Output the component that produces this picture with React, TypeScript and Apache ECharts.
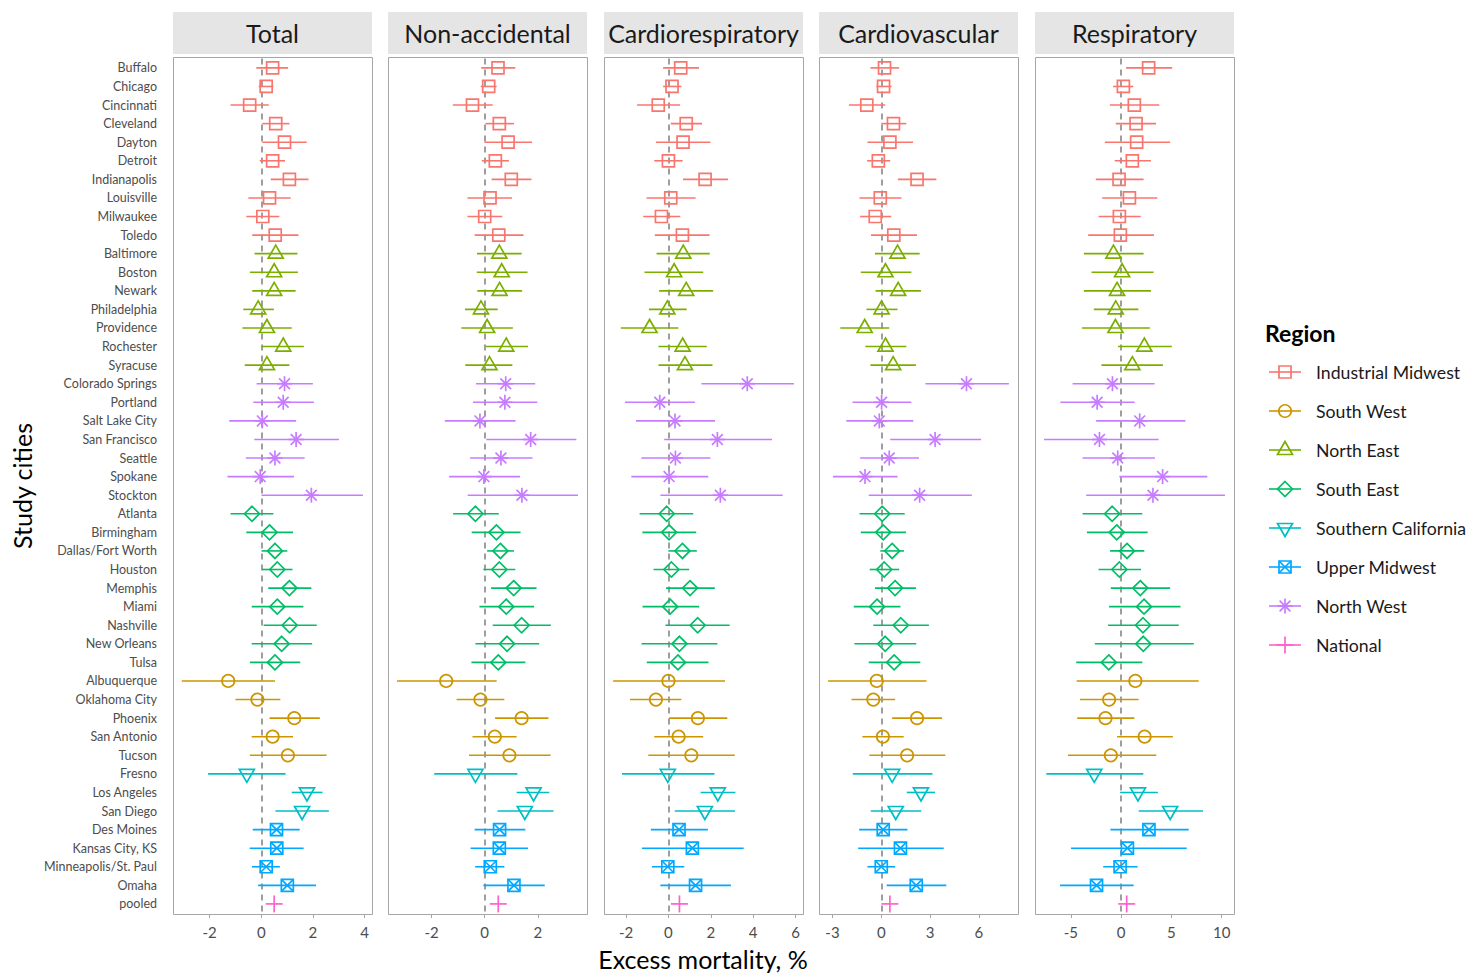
import React, { useEffect, useRef } from "react";
import * as echarts from "echarts";

const cities = ["Buffalo","Chicago","Cincinnati","Cleveland","Dayton","Detroit","Indianapolis","Louisville","Milwaukee","Toledo","Baltimore","Boston","Newark","Philadelphia","Providence","Rochester","Syracuse","Colorado Springs","Portland","Salt Lake City","San Francisco","Seattle","Spokane","Stockton","Atlanta","Birmingham","Dallas/Fort Worth","Houston","Memphis","Miami","Nashville","New Orleans","Tulsa","Albuquerque","Oklahoma City","Phoenix","San Antonio","Tucson","Fresno","Los Angeles","San Diego","Des Moines","Kansas City, KS","Minneapolis/St. Paul","Omaha","pooled"];

const regions = ["Industrial Midwest","South West","North East","South East","Southern California","Upper Midwest","North West","National"];
const regionColors = ["#F8766D","#CD9600","#7CAE00","#00BE67","#00BFC4","#00A9FF","#C77CFF","#FF61CC"];
// marker shape per region: 0 square, 1 circle, 2 triangle, 5 diamond, 6 down triangle, 7 square-cross, 8 asterisk, 3 plus
const regionShapes = [0, 1, 2, 5, 6, 7, 8, 3];

const cityRegion = [0,0,0,0,0,0,0,0,0,0, 2,2,2,2,2,2,2, 6,6,6,6,6,6,6, 3,3,3,3,3,3,3,3,3, 1,1,1,1,1, 4,4,4, 5,5,5,5, 7];

const panels = ["Total","Non-accidental","Cardiorespiratory","Cardiovascular","Respiratory"];

const totalEst = [0.44,0.19,-0.45,0.56,0.90,0.44,1.09,0.32,0.06,0.54, 0.56,0.50,0.50,-0.12,0.22,0.85,0.22, 0.90,0.85,0.04,1.35,0.53,-0.04,1.94, -0.36,0.32,0.53,0.62,1.09,0.62,1.10,0.79,0.53, -1.28,-0.15,1.28,0.44,1.03, -0.56,1.77,1.58, 0.59,0.60,0.19,1.01, 0.50];
const totalLo = [-0.19,-0.10,-1.19,0.04,0.04,-0.06,0.37,-0.50,-0.58,-0.35, -0.26,-0.44,-0.35,-0.70,-0.73,0.01,-0.64, -0.18,-0.31,-1.24,-0.27,-0.60,-1.31,0.01, -1.19,-0.58,0.01,0.04,0.27,-0.37,0.09,-0.37,-0.44, -3.08,-1.00,0.32,-0.37,-0.44, -2.06,1.18,0.55, -0.33,-0.45,-0.36,-0.12, null];
const totalHi = [1.04,0.47,0.29,1.09,1.76,0.92,1.83,1.14,0.70,1.44, 1.40,1.42,1.33,0.49,1.18,1.65,1.09, 2.00,2.04,1.35,3.01,1.68,1.27,3.94, 0.47,1.23,1.01,1.21,1.94,1.63,2.15,1.97,1.51, 0.53,0.74,2.27,1.23,2.53, 0.94,2.37,2.62, 1.49,1.64,0.72,2.12, null];

const nonAccEst = [0.50,0.15,-0.46,0.55,0.88,0.40,1.00,0.20,0.00,0.53, 0.55,0.64,0.56,-0.14,0.09,0.81,0.18, 0.79,0.76,-0.18,1.73,0.61,-0.03,1.40, -0.35,0.44,0.59,0.55,1.09,0.81,1.39,0.84,0.51, -1.45,-0.16,1.39,0.38,0.93, -0.35,1.84,1.51, 0.56,0.55,0.21,1.10, 0.51];
const nonAccLo = [-0.13,-0.15,-1.20,0.03,-0.01,-0.11,0.26,-0.65,-0.65,-0.38, -0.29,-0.30,-0.28,-0.74,-0.88,0.05,-0.73, -0.33,-0.44,-1.50,0.06,-0.55,-1.34,-0.64, -1.19,-0.49,0.09,-0.05,0.24,-0.20,0.30,-0.35,-0.50, -3.30,-1.06,0.39,-0.46,-0.59, -1.90,1.20,0.48, -0.38,-0.53,-0.36,-0.05, null];
const nonAccHi = [1.15,0.45,0.30,1.10,1.78,0.91,1.76,1.03,0.66,1.46, 1.39,1.61,1.41,0.49,1.06,1.63,1.04, 1.90,1.98,1.16,3.45,1.80,1.33,3.51, 0.53,1.35,1.10,1.15,1.95,1.86,2.49,2.05,1.53, 0.45,0.74,2.40,1.20,2.48, 1.23,2.43,2.59, 1.53,1.63,0.74,2.26, null];

const cardioRespEst = [0.58,0.17,-0.48,0.84,0.69,0.00,1.73,0.11,-0.33,0.66, 0.70,0.27,0.84,-0.05,-0.89,0.67,0.78, 3.72,-0.41,0.31,2.31,0.33,0.03,2.45, -0.08,0.03,0.66,0.14,1.02,0.08,1.38,0.52,0.45, 0.00,-0.59,1.39,0.48,1.08, -0.03,2.33,1.72, 0.50,1.13,-0.03,1.28, 0.52];
const cardioRespLo = [-0.25,-0.25,-1.48,0.11,-0.59,-0.67,0.69,-1.03,-1.19,-0.64, -0.56,-1.13,-0.44,-0.92,-2.25,-0.47,-0.47, 1.56,-2.05,-1.53,-0.20,-1.28,-1.75,-0.38, -1.36,-1.23,0.00,-0.70,-0.11,-1.22,-0.14,-1.27,-1.02, -2.61,-1.81,0.03,-0.67,-0.95, -2.19,1.52,0.30, -0.83,-1.25,-0.78,-0.38, null];
const cardioRespHi = [1.44,0.61,0.55,1.59,1.98,0.67,2.81,1.28,0.56,1.94, 1.95,1.64,2.11,0.86,0.47,1.81,2.08, 5.92,1.25,2.20,4.89,1.98,1.88,5.39, 1.17,1.31,1.34,0.98,2.19,1.45,2.89,2.31,1.89, 2.67,0.61,2.78,1.64,3.13, 2.17,3.16,3.14, 1.86,3.55,0.75,2.95, null];

const cardioVascEst = [0.20,0.14,-0.89,0.75,0.53,-0.18,2.20,-0.06,-0.37,0.77, 1.00,0.26,1.04,0.02,-1.02,0.26,0.73, 5.24,0.02,-0.12,3.31,0.49,-1.00,2.36, 0.06,0.12,0.67,0.18,0.85,-0.26,1.20,0.24,0.79, -0.28,-0.49,2.20,0.10,1.59, 0.67,2.44,0.89, 0.12,1.18,0.00,2.15, 0.53];
const cardioVascLo = [-0.67,-0.30,-1.99,0.00,-0.85,-0.87,1.02,-1.34,-1.30,-0.63, -0.39,-1.26,-0.35,-0.91,-2.52,-0.98,-0.67, 2.72,-1.77,-2.15,0.55,-1.30,-2.97,-0.77, -1.34,-1.26,-0.06,-0.71,-0.39,-1.69,-0.49,-1.65,-0.77, -3.27,-1.83,0.67,-1.16,-0.73, -1.75,1.57,-0.65, -1.36,-1.42,-0.85,0.33, null];
const cardioVascHi = [1.10,0.63,0.24,1.54,1.95,0.55,3.39,1.24,0.61,2.20, 2.36,1.85,2.44,1.00,0.49,1.54,2.13, 7.85,1.85,1.97,6.14,2.32,1.00,5.57, 1.44,1.52,1.40,1.10,2.13,1.18,2.93,2.15,2.40, 2.78,0.85,3.74,1.38,3.94, 3.15,3.31,2.46, 1.61,3.84,0.85,4.00, null];

const respEst = [2.74,0.23,1.32,1.49,1.55,1.12,-0.20,0.83,-0.17,-0.07, -0.76,0.10,-0.40,-0.53,-0.56,2.31,1.12, -0.86,-2.38,1.85,-2.15,-0.33,4.13,3.17, -0.89,-0.43,0.59,-0.17,1.91,2.28,2.18,2.21,-1.22, 1.42,-1.19,-1.55,2.34,-1.02, -2.67,1.68,4.88, 2.77,0.63,-0.10,-2.44, 0.56];
const respLo = [0.50,-0.79,-1.12,-0.53,-1.62,-0.63,-2.51,-1.88,-2.24,-3.27, -3.70,-2.94,-3.70,-2.71,-3.89,-0.30,-1.95, -4.82,-6.04,-2.48,-7.66,-3.83,-0.17,-3.47, -3.83,-3.40,-1.09,-2.24,-1.02,-1.19,-1.29,-2.61,-4.46, -4.42,-4.09,-4.36,-0.40,-5.28, -7.43,-0.10,1.75, -1.06,-4.98,-1.78,-6.07, null];
const respHi = [5.08,1.22,3.80,3.47,4.88,2.97,2.24,3.60,1.95,3.27, 2.24,3.23,2.97,1.72,2.87,5.05,4.16, 3.33,1.35,6.40,3.73,3.37,8.58,10.33, 2.11,2.64,2.31,1.98,4.88,5.91,5.74,7.23,2.11, 7.72,1.75,1.32,5.15,3.50, 2.21,3.66,8.15, 6.73,6.53,1.65,1.25, null];

const panelEst = [totalEst, nonAccEst, cardioRespEst, cardioVascEst, respEst];
const panelLo = [totalLo, nonAccLo, cardioRespLo, cardioVascLo, respLo];
const panelHi = [totalHi, nonAccHi, cardioRespHi, cardioVascHi, respHi];

const xMins = [-3.42, -3.64, -3.04, -3.83, -8.56];
const xMaxs = [4.29, 3.85, 6.35, 8.41, 11.23];
const xTicks = [[-2, 0, 2, 4], [-2, 0, 2], [-2, 0, 2, 4, 6], [-3, 0, 3, 6], [-5, 0, 5, 10]];

const FONT = "Lato, 'Open Sans', sans-serif";
const panelLefts = [173, 388, 604, 819, 1035];
const PANEL_W = 199;
const FRAME_TOP = 57;
const FRAME_H = 857;
const GRID_TOP = 58.6;
const GRID_H = 854.6;

function markerEls(shape: number, cx: number, cy: number, color: string): any[] {
  const st = { stroke: color, fill: "none", lineWidth: 1.7 };
  switch (shape) {
    case 0:
      return [{ type: "rect", shape: { x: cx - 6, y: cy - 6, width: 12, height: 12 }, style: st }];
    case 1:
      return [{ type: "circle", shape: { cx, cy, r: 6.2 }, style: st }];
    case 2:
      return [{ type: "polygon", shape: { points: [[cx, cy - 8.5], [cx - 7.5, cy + 4.5], [cx + 7.5, cy + 4.5]] }, style: st }];
    case 5:
      return [{ type: "polygon", shape: { points: [[cx, cy - 7.5], [cx + 7.5, cy], [cx, cy + 7.5], [cx - 7.5, cy]] }, style: st }];
    case 6:
      return [{ type: "polygon", shape: { points: [[cx - 7.5, cy - 4.5], [cx + 7.5, cy - 4.5], [cx, cy + 8.5]] }, style: st }];
    case 7:
      return [
        { type: "rect", shape: { x: cx - 6, y: cy - 6, width: 12, height: 12 }, style: st },
        { type: "line", shape: { x1: cx - 6, y1: cy - 6, x2: cx + 6, y2: cy + 6 }, style: st },
        { type: "line", shape: { x1: cx - 6, y1: cy + 6, x2: cx + 6, y2: cy - 6 }, style: st },
      ];
    case 8: {
      const r = 7.5;
      const d = r * 0.72;
      return [
        { type: "line", shape: { x1: cx - r, y1: cy, x2: cx + r, y2: cy }, style: st },
        { type: "line", shape: { x1: cx, y1: cy - r, x2: cx, y2: cy + r }, style: st },
        { type: "line", shape: { x1: cx - d, y1: cy - d, x2: cx + d, y2: cy + d }, style: st },
        { type: "line", shape: { x1: cx - d, y1: cy + d, x2: cx + d, y2: cy - d }, style: st },
      ];
    }
    case 3:
    default: {
      const r = 8.5;
      return [
        { type: "line", shape: { x1: cx - r, y1: cy, x2: cx + r, y2: cy }, style: st },
        { type: "line", shape: { x1: cx, y1: cy - r, x2: cx, y2: cy + r }, style: st },
      ];
    }
  }
}

const renderItem = (params: any, api: any) => {
  const cat = api.value(0);
  const est = api.value(1);
  const lo = api.value(2);
  const hi = api.value(3);
  const reg = api.value(4);
  const color = regionColors[reg];
  const c = api.coord([est, cat]);
  const children: any[] = [];
  if (lo !== hi) {
    const p1 = api.coord([lo, cat]);
    const p2 = api.coord([hi, cat]);
    children.push({
      type: "line",
      shape: { x1: p1[0], y1: p1[1], x2: p2[0], y2: p2[1] },
      style: { stroke: color, lineWidth: 1.6 },
    });
  }
  children.push(...markerEls(regionShapes[reg], c[0], c[1], color));
  return { type: "group", children };
};

export default function App() {
  const ref = useRef<HTMLDivElement>(null);
  useEffect(() => {
    document.body.style.margin = "0";
    const chart = echarts.init(ref.current!, null, { renderer: "svg" });

    const grids = panels.map((_, i) => ({
      left: panelLefts[i],
      top: GRID_TOP,
      width: PANEL_W,
      height: GRID_H,
      show: false,
    }));

    const xAxes = panels.map((_, i) => ({
      gridIndex: i,
      type: "value",
      min: xMins[i],
      max: xMaxs[i],
      offset: FRAME_TOP + FRAME_H - (GRID_TOP + GRID_H),
      axisLine: { show: false },
      splitLine: { show: false },
      axisTick: { show: true, customValues: xTicks[i], length: 4, lineStyle: { color: "#a6a6a6" } },
      axisLabel: { customValues: xTicks[i], fontSize: 15, color: "#4d4d4d", margin: 10, fontFamily: FONT },
    }));

    const yAxes = panels.map((_, i) => ({
      gridIndex: i,
      type: "category",
      data: cities,
      inverse: true,
      axisLine: { show: false },
      axisTick: { show: false },
      splitLine: { show: false },
      axisLabel: { show: i === 0, fontSize: 12.5, color: "#4d4d4d", margin: 16, fontFamily: FONT, interval: 0 },
    }));

    const series = panels.map((name, i) => ({
      type: "custom",
      name,
      xAxisIndex: i,
      yAxisIndex: i,
      renderItem,
      clip: false,
      encode: { x: 1, y: 0 },
      data: cities.map((_, k) => {
        const est = panelEst[i][k];
        const lo = panelLo[i][k];
        const hi = panelHi[i][k];
        return [k, est, lo == null ? est : lo, hi == null ? est : hi, cityRegion[k]];
      }),
      markLine: {
        silent: true,
        symbol: ["none", "none"],
        label: { show: false },
        lineStyle: { type: [6, 5], color: "#7f7f7f", width: 1.5 },
        data: [{ xAxis: 0 }],
        z: 1,
      },
    }));

    const graphics: any[] = [];
    panels.forEach((name, i) => {
      graphics.push({
        type: "rect",
        z: -10,
        shape: { x: panelLefts[i] + 0.5, y: FRAME_TOP + 0.5, width: PANEL_W, height: FRAME_H },
        style: { fill: "#ffffff", stroke: "#a6a6a6", lineWidth: 1 },
      });
      graphics.push({
        type: "rect",
        shape: { x: panelLefts[i], y: 12, width: PANEL_W, height: 42 },
        style: { fill: "#e5e5e5" },
      });
      graphics.push({
        type: "text",
        x: panelLefts[i] + PANEL_W / 2,
        y: 33,
        style: {
          text: name,
          x: 0,
          y: 0,
          fontSize: 25,
          fontFamily: FONT,
          fill: "#1a1a1a",
          align: "center",
          verticalAlign: "middle",
          textAlign: "center",
          textVerticalAlign: "middle",
        },
      });
    });

    graphics.push({
      type: "text",
      x: 703,
      y: 959,
      style: {
        text: "Excess mortality, %",
        fontSize: 25,
        fontFamily: FONT,
        fill: "#000000",
        align: "center",
        verticalAlign: "middle",
        textAlign: "center",
        textVerticalAlign: "middle",
      },
    });
    graphics.push({
      type: "text",
      x: 22,
      y: 486,
      rotation: Math.PI / 2,
      style: {
        text: "Study cities",
        fontSize: 25,
        fontFamily: FONT,
        fill: "#000000",
        align: "center",
        verticalAlign: "middle",
        textAlign: "center",
        textVerticalAlign: "middle",
      },
    });

    // Legend
    graphics.push({
      type: "text",
      x: 1265,
      y: 333,
      style: {
        text: "Region",
        fontSize: 23,
        fontWeight: "bold",
        fontFamily: FONT,
        fill: "#000000",
        align: "left",
        verticalAlign: "middle",
        textAlign: "left",
        textVerticalAlign: "middle",
      },
    });
    regions.forEach((r, j) => {
      const cy = 372 + j * 39;
      const color = regionColors[j];
      graphics.push({
        type: "line",
        shape: { x1: 1269, y1: cy, x2: 1301, y2: cy },
        style: { stroke: color, lineWidth: 1.6 },
      });
      markerEls(regionShapes[j], 1285, cy, color).forEach((el) => graphics.push(el));
      graphics.push({
        type: "text",
        x: 1316,
        y: cy,
        style: {
          text: r,
          fontSize: 17.7,
          fontFamily: FONT,
          fill: "#1a1a1a",
          align: "left",
          verticalAlign: "middle",
          textAlign: "left",
          textVerticalAlign: "middle",
        },
      });
    });

    chart.setOption({
      animation: false,
      textStyle: { fontFamily: FONT },
      grid: grids,
      xAxis: xAxes,
      yAxis: yAxes,
      series,
      graphic: { elements: graphics },
    } as any);

    return () => chart.dispose();
  }, []);

  return <div ref={ref} style={{ width: 1470, height: 973, overflow: "hidden" }} />;
}
